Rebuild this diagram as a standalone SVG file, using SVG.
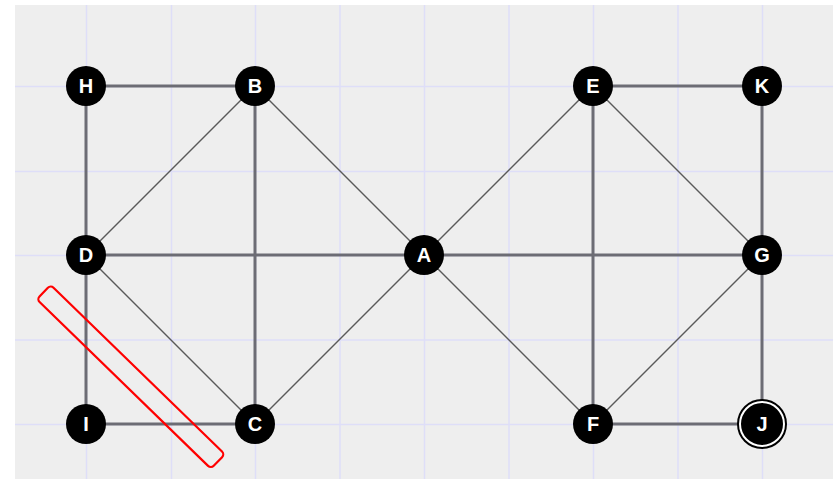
<svg xmlns="http://www.w3.org/2000/svg" width="833" height="479" viewBox="0 0 833 479">
<style>
.grid line{stroke:#dedef8;stroke-width:1.5}
.thick{stroke:#6c6c74;stroke-width:3;fill:none}
.thin{stroke:#5a5a5a;stroke-width:1.4;fill:none}
.node circle.body{fill:#000}
.node text{fill:#fff;font-family:"Liberation Sans",Arial,sans-serif;font-weight:bold;font-size:20px;text-anchor:middle}
</style>
<rect x="0" y="0" width="833" height="479" fill="#ffffff"/>
<rect x="15" y="5" width="818" height="474" fill="#eeeeee"/>
<g class="grid">
<line x1="86.5" y1="5" x2="86.5" y2="479"/>
<line x1="171.5" y1="5" x2="171.5" y2="479"/>
<line x1="255.5" y1="5" x2="255.5" y2="479"/>
<line x1="340" y1="5" x2="340" y2="479"/>
<line x1="424.5" y1="5" x2="424.5" y2="479"/>
<line x1="509" y1="5" x2="509" y2="479"/>
<line x1="593.5" y1="5" x2="593.5" y2="479"/>
<line x1="678" y1="5" x2="678" y2="479"/>
<line x1="762.5" y1="5" x2="762.5" y2="479"/>
<line x1="15" y1="86.5" x2="833" y2="86.5"/>
<line x1="15" y1="171.5" x2="833" y2="171.5"/>
<line x1="15" y1="255.5" x2="833" y2="255.5"/>
<line x1="15" y1="340" x2="833" y2="340"/>
<line x1="15" y1="424.5" x2="833" y2="424.5"/>
</g>
<g id="connectors">
<line class="thick" x1="86" y1="86" x2="255" y2="86"/>
<line class="thick" x1="86" y1="86" x2="86" y2="255"/>
<line class="thick" x1="86" y1="255" x2="86" y2="424"/>
<line class="thick" x1="86" y1="424" x2="255" y2="424"/>
<line class="thick" x1="255" y1="86" x2="255" y2="424"/>
<line class="thick" x1="86" y1="255" x2="424" y2="255"/>
<line class="thick" x1="424" y1="255" x2="762" y2="255"/>
<line class="thick" x1="593" y1="86" x2="762" y2="86"/>
<line class="thick" x1="762" y1="86" x2="762" y2="255"/>
<line class="thick" x1="762" y1="255" x2="762" y2="424"/>
<line class="thick" x1="593" y1="424" x2="762" y2="424"/>
<line class="thick" x1="593" y1="86" x2="593" y2="424"/>
<line class="thin" x1="255" y1="86" x2="86" y2="255"/>
<line class="thin" x1="255" y1="86" x2="424" y2="255"/>
<line class="thin" x1="86" y1="255" x2="255" y2="424"/>
<line class="thin" x1="255" y1="424" x2="424" y2="255"/>
<line class="thin" x1="424" y1="255" x2="593" y2="86"/>
<line class="thin" x1="424" y1="255" x2="593" y2="424"/>
<line class="thin" x1="593" y1="86" x2="762" y2="255"/>
<line class="thin" x1="593" y1="424" x2="762" y2="255"/>
</g>
<g id="node-H" class="node"><circle class="body" cx="86" cy="86" r="20"/><text x="86" y="93">H</text></g>
<g id="node-B" class="node"><circle class="body" cx="255" cy="86" r="20"/><text x="255" y="93">B</text></g>
<g id="node-E" class="node"><circle class="body" cx="593" cy="86" r="20"/><text x="593" y="93">E</text></g>
<g id="node-K" class="node"><circle class="body" cx="762" cy="86" r="20"/><text x="762" y="93">K</text></g>
<g id="node-D" class="node"><circle class="body" cx="86" cy="255" r="20"/><text x="86" y="262">D</text></g>
<g id="node-A" class="node"><circle class="body" cx="424" cy="255" r="20"/><text x="424" y="262">A</text></g>
<g id="node-G" class="node"><circle class="body" cx="762" cy="255" r="20"/><text x="762" y="262">G</text></g>
<g id="node-I" class="node"><circle class="body" cx="86" cy="424" r="20"/><text x="86" y="431">I</text></g>
<g id="node-C" class="node"><circle class="body" cx="255" cy="424" r="20"/><text x="255" y="431">C</text></g>
<g id="node-F" class="node"><circle class="body" cx="593" cy="424" r="20"/><text x="593" y="431">F</text></g>
<g id="node-J" class="node">
<circle class="body" cx="762" cy="424" r="24" stroke="#000" stroke-width="2"/>
<circle cx="762" cy="424" r="22" fill="none" stroke="#fff" stroke-width="2"/>
<text x="762" y="431">J</text>
</g>
<rect id="highlight" x="-121.5" y="-10" width="243" height="20" rx="4" fill="none" stroke="#ff0000" stroke-width="2.2" transform="translate(130.8 376.8) rotate(44.2)"/>
</svg>
